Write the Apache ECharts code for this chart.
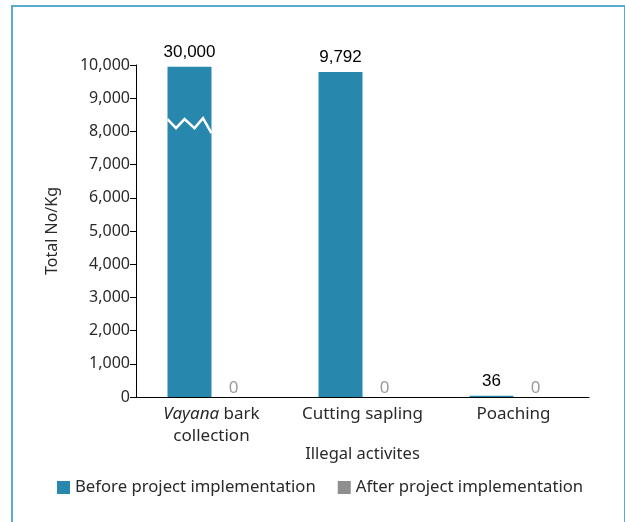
<!DOCTYPE html>
<html>
<head>
<meta charset="utf-8">
<script src="https://cdn.jsdelivr.net/npm/echarts@6/dist/echarts.min.js"></script>
<style>
  html, body { margin: 0; padding: 0; background: #fff; }
  #frame {
    position: absolute; left: 11px; top: 5px; width: 611px; height: 530px;
    border: 2px solid #5aaacd; border-bottom: none;
  }
  #chart { position: absolute; left: 0; top: 0; width: 625px; height: 522px; }
</style>
</head>
<body>
<div id="frame"></div>
<div id="chart"></div>
<script>
// data
const categories = ['Vayana bark collection', 'Cutting sapling', 'Poaching']
const beforeValues = [30000, 9792, 36]
const afterValues = [0, 0, 0]
const yTicks = [0, 1000, 2000, 3000, 4000, 5000, 6000, 7000, 8000, 9000, 10000]
const axisMax = 10000
const breakAt = 8370 // where the axis break is drawn on the first bar

const blue = '#2787ad'
const grey = '#8f8f8f'
const textCol = '#2a2a2a'
const barW = 44
const fontFam = '"Noto Sans", "Open Sans", sans-serif'

const fmt = v => v.toLocaleString('en-US')

// bars taller than the axis are cut at the top, label keeps real value
const beforeData = beforeValues.map(v => ({
  value: Math.min(v, axisMax * 0.995),
  real: v
}))

const chart = echarts.init(document.getElementById('chart'))

const option = {
  animation: false,
  grid: { left: 136, right: 36, top: 65, bottom: 125 },
  legend: {
    bottom: 21,
    left: 52,
    itemWidth: 13,
    itemHeight: 13,
    itemGap: 22,
    icon: 'rect',
    textStyle: { fontFamily: fontFam, fontSize: 16.7, color: textCol },
    data: ['Before project implementation', 'After project implementation']
  },
  xAxis: {
    type: 'category',
    data: categories,
    name: 'Illegal activites',
    nameLocation: 'middle',
    nameGap: 49,
    nameMoveOverlap: false,
    nameTextStyle: { fontFamily: fontFam, fontSize: 16.5, color: textCol, verticalAlign: 'top' },
    axisLine: { lineStyle: { color: '#000', width: 1 } },
    axisTick: { length: 6, lineStyle: { color: '#000' } },
    axisLabel: {
      interval: 0,
      hideOverlap: false,
      margin: 6,
      lineHeight: 22,
      fontFamily: fontFam,
      fontSize: 17,
      color: textCol,
      formatter: function (v) {
        if (v === categories[0]) return '{i|Vayana} bark\ncollection'
        return v
      },
      rich: {
        i: { fontStyle: 'italic', fontFamily: fontFam, fontSize: 17, color: textCol }
      }
    }
  },
  yAxis: {
    type: 'value',
    min: yTicks[0],
    max: axisMax,
    interval: 1000,
    name: 'Total No/Kg',
    nameLocation: 'middle',
    nameGap: 76,
    nameTextStyle: { fontFamily: fontFam, fontSize: 16, color: textCol },
    axisLine: { show: true, lineStyle: { color: '#000', width: 1 } },
    axisTick: { show: true, length: 6, lineStyle: { color: '#000' } },
    splitLine: { show: false },
    axisLabel: {
      margin: 6,
      fontFamily: fontFam,
      fontSize: 16,
      color: textCol,
      formatter: v => fmt(v)
    }
  },
  series: [
    {
      name: 'Before project implementation',
      type: 'bar',
      barWidth: barW,
      barGap: '0%',
      itemStyle: { color: blue },
      label: {
        show: true,
        position: 'top',
        distance: 6,
        fontFamily: '"Liberation Sans", Arial, sans-serif',
        fontSize: 17,
        color: '#000',
        formatter: p => fmt(p.data.real)
      },
      data: beforeData
    },
    {
      name: 'After project implementation',
      type: 'bar',
      barWidth: barW,
      barGap: '0%',
      itemStyle: { color: grey },
      label: {
        show: true,
        position: 'top',
        distance: 0,
        fontFamily: fontFam,
        fontSize: 17,
        color: '#9a9a9a'
      },
      data: afterValues
    },
    {
      // axis break zigzag over the first bar
      type: 'custom',
      silent: true,
      z: 5,
      data: [[0, breakAt]],
      renderItem: function (params, api) {
        const p = api.coord([api.value(0), api.value(1)])
        const x0 = p[0] - barW
        const pts = [
          [x0, p[1]],
          [x0 + 8.5, p[1] + 9],
          [x0 + 17, p[1]],
          [x0 + 27, p[1] + 9],
          [x0 + 35.5, p[1] - 1],
          [x0 + 44, p[1] + 14]
        ]
        return {
          type: 'polyline',
          shape: { points: pts },
          style: { stroke: '#fff', lineWidth: 2.5, fill: null }
        }
      }
    }
  ]
}

chart.setOption(option)
</script>
</body>
</html>
